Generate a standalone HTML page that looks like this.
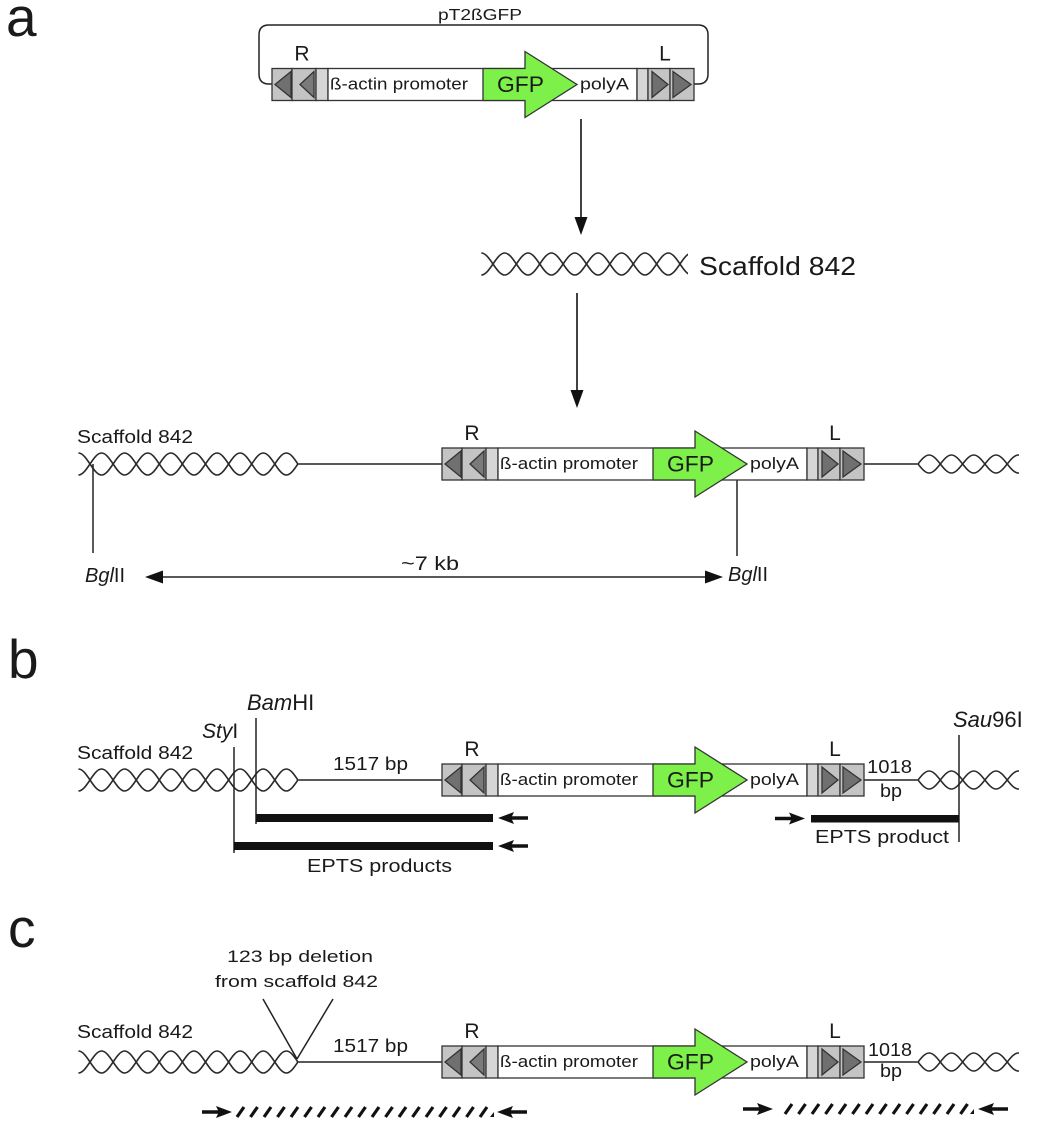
<!DOCTYPE html>
<html><head><meta charset="utf-8"><style>
html,body{margin:0;padding:0;background:#fff;}
svg{display:block;}
text{font-family:"Liberation Sans",Arial,sans-serif;fill:#1a1a1a;}
</style></head><body>
<svg width="1038" height="1133" viewBox="0 0 1038 1133" xmlns="http://www.w3.org/2000/svg">
<defs>
  <clipPath id="clL" clipPathUnits="userSpaceOnUse"><rect x="70" y="-20" width="228" height="40"/></clipPath>
  <clipPath id="clR" clipPathUnits="userSpaceOnUse"><rect x="918" y="-20" width="101" height="40"/></clipPath>
  <g id="LH" fill="none" stroke="#2a2a2a" stroke-width="1.6">
    <g clip-path="url(#clL)">
      <path d="M78.45,-11 c8.32,0 14.78,22 23.1,22 s14.78,-22 23.1,-22 s14.78,22 23.1,22 s14.78,-22 23.1,-22 s14.78,22 23.1,22 s14.78,-22 23.1,-22 s14.78,22 23.1,22 s14.78,-22 23.1,-22 s14.78,22 23.1,22 s14.78,-22 23.1,-22"/>
      <path d="M78.45,11 c8.32,0 14.78,-22 23.1,-22 s14.78,22 23.1,22 s14.78,-22 23.1,-22 s14.78,22 23.1,22 s14.78,-22 23.1,-22 s14.78,22 23.1,22 s14.78,-22 23.1,-22 s14.78,22 23.1,22 s14.78,-22 23.1,-22 s14.78,22 23.1,22"/>
    </g>
  </g>
  <g id="RH" fill="none" stroke="#2a2a2a" stroke-width="1.6">
    <g clip-path="url(#clR)">
      <path d="M906.85,-9 c8.03,0 14.27,18 22.3,18 s14.27,-18 22.3,-18 s14.27,18 22.3,18 s14.27,-18 22.3,-18 s14.27,18 22.3,18 s14.27,-18 22.3,-18"/>
      <path d="M906.85,9 c8.03,0 14.27,-18 22.3,-18 s14.27,18 22.3,18 s14.27,-18 22.3,-18 s14.27,18 22.3,18 s14.27,-18 22.3,-18 s14.27,18 22.3,18"/>
    </g>
  </g>
  <g id="cas">
    <g stroke="#333" stroke-width="1.3">
      <rect x="0" y="0" width="20" height="32" fill="#c4c4c4"/>
      <rect x="20" y="0" width="24" height="32" fill="#c4c4c4"/>
      <rect x="44" y="0" width="12" height="32" fill="#d6d6d6"/>
      <rect x="56" y="0" width="309" height="32" fill="#fff"/>
      <rect x="365" y="0" width="11" height="32" fill="#d6d6d6"/>
      <rect x="376" y="0" width="22" height="32" fill="#c4c4c4"/>
      <rect x="398" y="0" width="24" height="32" fill="#c4c4c4"/>
      <polygon points="3,16 19,3 19,29" fill="#707070"/>
      <polygon points="28,16 42,3 42,29" fill="#7a7a7a"/>
      <polygon points="380,3 396,16 380,29" fill="#707070"/>
      <polygon points="401,3 419,16 401,29" fill="#707070"/>
      <polygon points="211,0 253,0 253,-17 305,16 253,49 253,32 211,32" fill="#7df04a"/>
    </g>
    <text x="58" y="21" font-size="17" textLength="138" lengthAdjust="spacingAndGlyphs">ß-actin promoter</text>
    <text x="225" y="23.5" font-size="22" textLength="47" lengthAdjust="spacingAndGlyphs">GFP</text>
    <text x="308" y="21" font-size="17" textLength="49" lengthAdjust="spacingAndGlyphs">polyA</text>
    <text x="30" y="-8" font-size="21" text-anchor="middle">R</text>
    <text x="393" y="-8" font-size="21" text-anchor="middle">L</text>
  </g>
  <polygon id="pa" points="0,0 16,-6 14,-1.7 30,-1.7 30,1.7 14,1.7 16,6" fill="#111"/>
</defs>

<!-- panel labels -->
<text x="6" y="36" font-size="55">a</text>
<text x="8" y="678" font-size="55">b</text>
<text x="8" y="947" font-size="55">c</text>

<!-- ===== a: plasmid ===== -->
<text x="438" y="20" font-size="16" textLength="84" lengthAdjust="spacingAndGlyphs">pT2ßGFP</text>
<path d="M272,84 H269 Q259,84 259,74 V35 Q259,25 269,25 H698 Q708,25 708,35 V74 Q708,84 698,84 H694" fill="none" stroke="#222" stroke-width="1.5"/>
<use href="#cas" transform="translate(272,68.5)"/>

<!-- arrows -->
<g stroke="#111" stroke-width="1.6">
  <line x1="581" y1="119" x2="581" y2="220"/>
  <line x1="577" y1="293" x2="577" y2="393"/>
</g>
<polygon points="574.5,217 587.5,217 581,235" fill="#111"/>
<polygon points="570.5,390 583.5,390 577,408" fill="#111"/>

<!-- middle helix -->
<g fill="none" stroke="#2a2a2a" stroke-width="1.6">
  <clipPath id="clM"><rect x="480" y="240" width="208" height="50"/></clipPath>
  <g clip-path="url(#clM)">
    <path d="M481.3,253 c8.415,0 14.96,22 23.375,22 s14.96,-22 23.375,-22 s14.96,22 23.375,22 s14.96,-22 23.375,-22 s14.96,22 23.375,22 s14.96,-22 23.375,-22 s14.96,22 23.375,22 s14.96,-22 23.375,-22 s14.96,22 23.375,22"/>
    <path d="M481.3,275 c8.415,0 14.96,-22 23.375,-22 s14.96,22 23.375,22 s14.96,-22 23.375,-22 s14.96,22 23.375,22 s14.96,-22 23.375,-22 s14.96,22 23.375,22 s14.96,-22 23.375,-22 s14.96,22 23.375,22 s14.96,-22 23.375,-22"/>
  </g>
</g>
<text x="699" y="275" font-size="26" textLength="157" lengthAdjust="spacingAndGlyphs">Scaffold 842</text>

<!-- a: integrated -->
<text x="77" y="443" font-size="18" textLength="116" lengthAdjust="spacingAndGlyphs">Scaffold 842</text>
<use href="#LH" transform="translate(0,464)"/>
<use href="#RH" transform="translate(0,464)"/>
<g stroke="#222" stroke-width="1.5">
  <line x1="297" y1="464" x2="442" y2="464"/>
  <line x1="864" y1="464" x2="919" y2="464"/>
  <line x1="93" y1="464" x2="93" y2="553"/>
  <line x1="737" y1="480" x2="737" y2="556"/>
  <line x1="160" y1="577" x2="708" y2="577"/>
</g>
<use href="#cas" transform="translate(442,448)"/>
<polygon points="145,577 163,570.5 163,583.5" fill="#111"/>
<polygon points="723,577 705,570.5 705,583.5" fill="#111"/>
<text x="85" y="582" font-size="20"><tspan font-style="italic">Bgl</tspan>II</text>
<text x="728" y="581" font-size="20"><tspan font-style="italic">Bgl</tspan>II</text>
<text x="401" y="570" font-size="19" textLength="58" lengthAdjust="spacingAndGlyphs">~7 kb</text>

<!-- ===== b ===== -->
<text x="77" y="759" font-size="18" textLength="116" lengthAdjust="spacingAndGlyphs">Scaffold 842</text>
<use href="#LH" transform="translate(0,780)"/>
<use href="#RH" transform="translate(0,780)"/>
<g stroke="#222" stroke-width="1.5">
  <line x1="297" y1="780" x2="442" y2="780"/>
  <line x1="864" y1="780" x2="919" y2="780"/>
  <line x1="234" y1="747" x2="234" y2="853"/>
  <line x1="256" y1="718" x2="256" y2="824"/>
  <line x1="959" y1="735" x2="959" y2="842"/>
</g>
<use href="#cas" transform="translate(442,764)"/>
<rect x="256" y="814" width="237" height="8" fill="#111"/>
<rect x="234" y="842" width="259" height="8" fill="#111"/>
<rect x="811" y="815" width="148" height="7.5" fill="#111"/>
<use href="#pa" transform="translate(498,818)"/>
<use href="#pa" transform="translate(498,846)"/>
<use href="#pa" transform="translate(805,818.5) scale(-1,1)"/>
<text x="202" y="738" font-size="21"><tspan font-style="italic">Sty</tspan>I</text>
<text x="247" y="710" font-size="22"><tspan font-style="italic">Bam</tspan>HI</text>
<text x="953" y="727" font-size="22"><tspan font-style="italic">Sau</tspan>96I</text>
<text x="333" y="770" font-size="18" textLength="75" lengthAdjust="spacingAndGlyphs">1517 bp</text>
<text x="867" y="773" font-size="18" textLength="45" lengthAdjust="spacingAndGlyphs">1018</text>
<text x="880" y="797" font-size="18" textLength="22" lengthAdjust="spacingAndGlyphs">bp</text>
<text x="307" y="872" font-size="18" textLength="145" lengthAdjust="spacingAndGlyphs">EPTS products</text>
<text x="815" y="843" font-size="18" textLength="134" lengthAdjust="spacingAndGlyphs">EPTS product</text>

<!-- ===== c ===== -->
<text x="227" y="962" font-size="17" textLength="146" lengthAdjust="spacingAndGlyphs">123 bp deletion</text>
<text x="215" y="987" font-size="17" textLength="163" lengthAdjust="spacingAndGlyphs">from scaffold 842</text>
<text x="77" y="1038" font-size="18" textLength="116" lengthAdjust="spacingAndGlyphs">Scaffold 842</text>
<use href="#LH" transform="translate(0,1062)"/>
<use href="#RH" transform="translate(0,1062)"/>
<g stroke="#222" stroke-width="1.5">
  <line x1="297" y1="1062" x2="442" y2="1062"/>
  <line x1="864" y1="1062" x2="919" y2="1062"/>
  <line x1="263" y1="999" x2="297" y2="1059"/>
  <line x1="333" y1="999" x2="297" y2="1059"/>
</g>
<use href="#cas" transform="translate(442,1046)"/>
<text x="333" y="1052" font-size="18" textLength="75" lengthAdjust="spacingAndGlyphs">1517 bp</text>
<text x="868" y="1056" font-size="18" textLength="44" lengthAdjust="spacingAndGlyphs">1018</text>
<text x="880" y="1077" font-size="18" textLength="22" lengthAdjust="spacingAndGlyphs">bp</text>

<!-- hatched products -->
<g stroke="#111" stroke-width="3.2" fill="none">
  <path d="M237,1117 l7,-10 m6.5,10 l7,-10 m6.5,10 l7,-10 m6.5,10 l7,-10 m6.5,10 l7,-10 m6.5,10 l7,-10 m6.5,10 l7,-10 m6.5,10 l7,-10 m6.5,10 l7,-10 m6.5,10 l7,-10 m6.5,10 l7,-10 m6.5,10 l7,-10 m6.5,10 l7,-10 m6.5,10 l7,-10 m6.5,10 l7,-10 m6.5,10 l7,-10 m6.5,10 l7,-10 m6.5,10 l7,-10 m6.5,10 l7,-10"/>
  <path d="M785,1114 l7,-10 m6.5,10 l7,-10 m6.5,10 l7,-10 m6.5,10 l7,-10 m6.5,10 l7,-10 m6.5,10 l7,-10 m6.5,10 l7,-10 m6.5,10 l7,-10 m6.5,10 l7,-10 m6.5,10 l7,-10 m6.5,10 l7,-10 m6.5,10 l7,-10 m6.5,10 l7,-10 m6.5,10 l7,-10"/>
</g>
<polygon points="490,1117 494,1112 494,1117" fill="#111"/>
<polygon points="970,1114 974,1109 974,1114" fill="#111"/>
<use href="#pa" transform="translate(232,1112) scale(-1,1)"/>
<use href="#pa" transform="translate(497,1112)"/>
<use href="#pa" transform="translate(773,1109) scale(-1,1)"/>
<use href="#pa" transform="translate(978,1109)"/>
</svg>
</body></html>
